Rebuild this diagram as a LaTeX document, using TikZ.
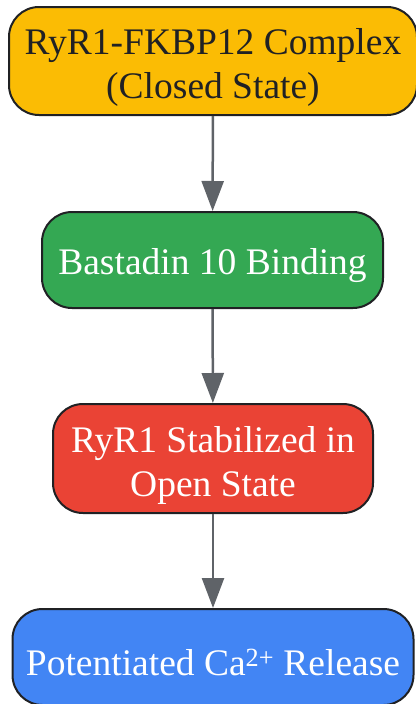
\documentclass[tikz,border=0pt]{standalone}
\usepackage{fontspec}
\setmainfont{Liberation Serif}
\usetikzlibrary{arrows.meta}
\definecolor{cyellow}{HTML}{FBBC04}
\definecolor{cgreen}{HTML}{34A853}
\definecolor{cred}{HTML}{EA4335}
\definecolor{cblue}{HTML}{4285F4}
\definecolor{cline}{HTML}{5F6368}
\definecolor{cdark}{HTML}{202124}
\newcommand{\toplift}{\rule{0pt}{39pt}}
\tikzset{
  stage/.style={draw=cdark,line width=2pt,rounded corners=30pt,align=center,
    inner sep=0pt,font=\fontsize{37.5}{44}\selectfont,
    execute at begin node={\rule{0pt}{37pt}}},
  flow/.style={draw=cline,line width=2.5pt,-{Triangle[width=22pt,length=30pt,fill=cline]}}
}
\begin{document}
\begin{tikzpicture}[x=1pt,y=1pt]
    \useasboundingbox (0,0) rectangle (415,-704);
    \node[stage,fill=cyellow,text=cdark,minimum width=408pt,minimum height=108pt] (complex) at (213,-61) {\toplift RyR1-FKBP12 Complex\\(Closed State)};
    \node[stage,fill=cgreen,text=white,minimum width=341pt,minimum height=96pt] (binding) at (212.5,-260) {Bastadin 10 Binding};
    \node[stage,fill=cred,text=white,minimum width=320pt,minimum height=109pt] (open) at (213,-458.5) {\toplift RyR1 Stabilized in\\Open State};
    \node[stage,fill=cblue,text=white,minimum width=401pt,minimum height=96pt] (release) at (213,-657) {Potentiated Ca\textsuperscript{2+} Release};
    \path (complex) edge[flow] (binding)
      (binding) edge[flow] (open)
      (open) edge[flow] (release);
  \end{tikzpicture}
\end{document}
